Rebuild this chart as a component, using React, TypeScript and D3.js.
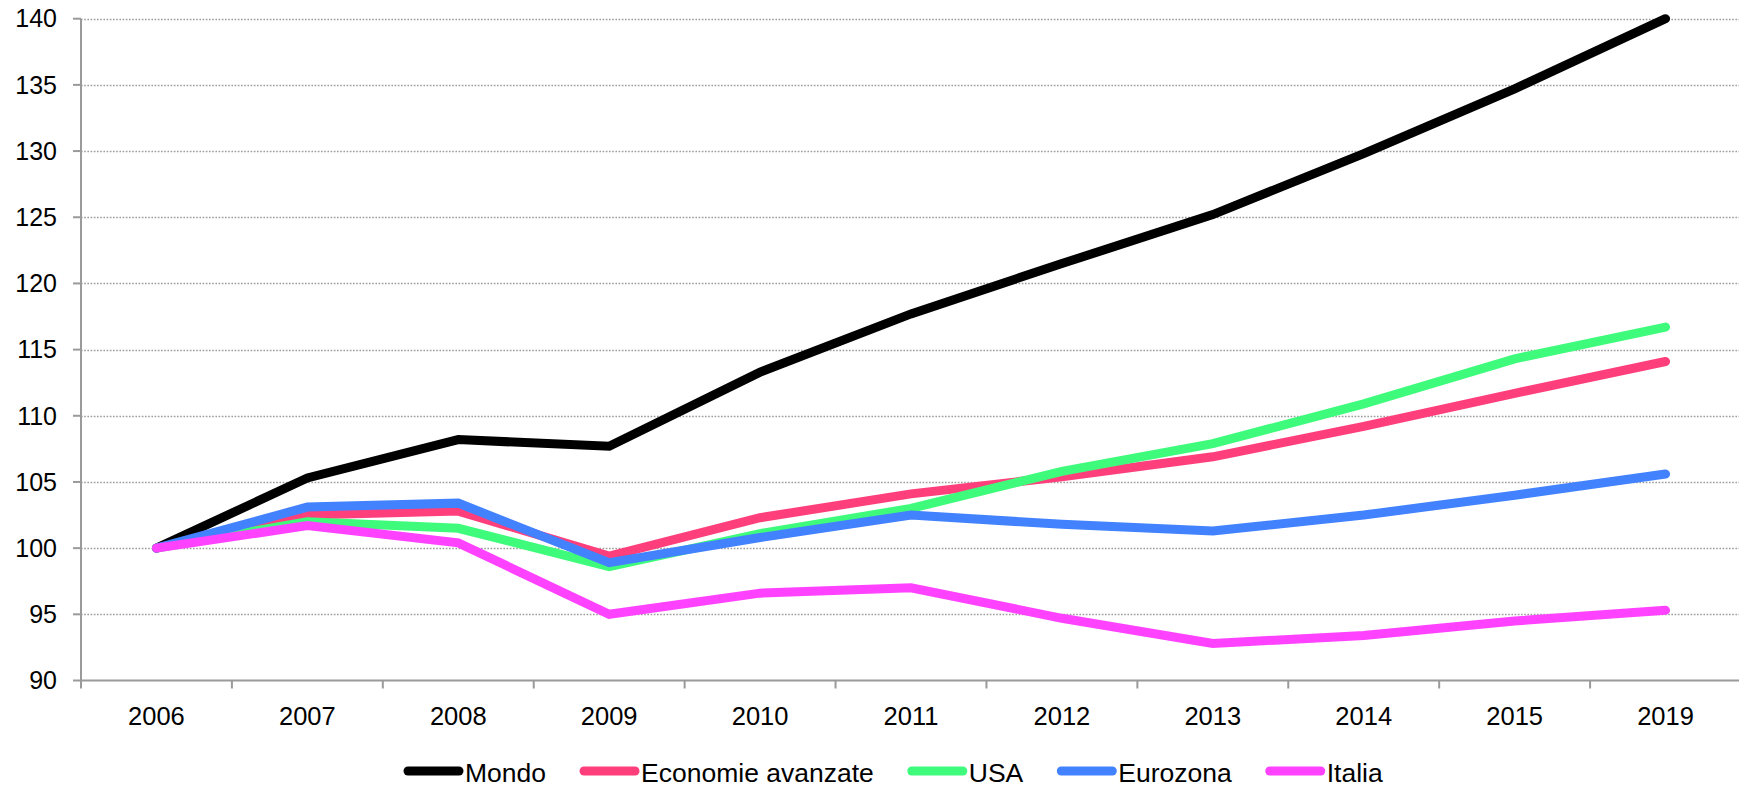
import React, { useEffect, useRef } from "react";
import * as d3 from "d3";

const years = ["2006", "2007", "2008", "2009", "2010", "2011", "2012", "2013", "2014", "2015", "2019"];
const seriesNames = ["Mondo", "Economie avanzate", "USA", "Eurozona", "Italia"];
const seriesColors = ["#000000", "#FF3F7C", "#3FFB7C", "#4282FF", "#FF42FF"];
const mondo = [100, 105.3, 108.2, 107.7, 113.3, 117.7, 121.5, 125.2, 129.8, 134.7, 140];
const economieAvanzate = [100, 102.5, 102.8, 99.4, 102.3, 104.1, 105.4, 106.9, 109.2, 111.7, 114.1];
const usa = [100, 102.0, 101.5, 98.6, 101.1, 103.0, 105.8, 107.9, 110.9, 114.3, 116.7];
const eurozona = [100, 103.1, 103.4, 98.9, 100.8, 102.5, 101.8, 101.3, 102.5, 104.0, 105.6];
const italia = [100, 101.7, 100.4, 95.0, 96.6, 97.0, 94.7, 92.8, 93.4, 94.5, 95.3];
const yTicks = [90, 95, 100, 105, 110, 115, 120, 125, 130, 135, 140];

const W = 1739;
const H = 788;
const FONT = "'Liberation Sans', Arial, sans-serif";

export default function App() {
  const ref = useRef<SVGSVGElement>(null);

  useEffect(() => {
    const svg = d3.select(ref.current);
    svg.selectAll("*").remove();
    const left = 81;
    const right = 1741;
    const x = d3.scaleBand<string>().domain(years).range([left, right]);
    const y = d3.scaleLinear().domain([90, 140]).range([680.5, 18.7]);
    const cx = (d: string) => (x(d) as number) + x.bandwidth() / 2;

    // gridlines
    svg
      .append("g")
      .selectAll("line")
      .data(yTicks.filter((t) => t !== 90))
      .join("line")
      .attr("x1", left)
      .attr("x2", W)
      .attr("y1", (d) => Math.round(y(d)) + 0.5)
      .attr("y2", (d) => Math.round(y(d)) + 0.5)
      .attr("stroke", "#9a9a9a")
      .attr("stroke-width", 1.4)
      .attr("stroke-dasharray", "1.6,1.6");

    // y axis
    const gy = svg.append("g");
    gy.append("line")
      .attr("x1", left)
      .attr("x2", left)
      .attr("y1", y(140))
      .attr("y2", y(90))
      .attr("stroke", "#9a9a9a")
      .attr("stroke-width", 2);
    gy.selectAll("line.tick")
      .data(yTicks)
      .join("line")
      .attr("class", "tick")
      .attr("x1", left - 8)
      .attr("x2", left)
      .attr("y1", (d) => y(d))
      .attr("y2", (d) => y(d))
      .attr("stroke", "#9a9a9a")
      .attr("stroke-width", 2);
    gy.selectAll("text")
      .data(yTicks)
      .join("text")
      .attr("x", 57)
      .attr("y", (d) => y(d))
      .attr("dy", "0.35em")
      .attr("text-anchor", "end")
      .attr("font-family", FONT)
      .attr("font-size", 25)
      .attr("fill", "#000")
      .text((d) => String(d));

    // x axis
    const gx = svg.append("g");
    gx.append("line")
      .attr("x1", left)
      .attr("x2", W)
      .attr("y1", y(90))
      .attr("y2", y(90))
      .attr("stroke", "#9a9a9a")
      .attr("stroke-width", 2);
    const boundaries = years.map((d) => x(d) as number).concat([right]);
    gx.selectAll("line.tick")
      .data(boundaries)
      .join("line")
      .attr("class", "tick")
      .attr("x1", (d) => d)
      .attr("x2", (d) => d)
      .attr("y1", y(90))
      .attr("y2", y(90) + 8)
      .attr("stroke", "#9a9a9a")
      .attr("stroke-width", 2);
    gx.selectAll("text")
      .data(years)
      .join("text")
      .attr("x", (d) => cx(d))
      .attr("y", 725)
      .attr("text-anchor", "middle")
      .attr("font-family", FONT)
      .attr("font-size", 25.5)
      .attr("fill", "#000")
      .text((d) => d);

    // lines
    const allSeries = [mondo, economieAvanzate, usa, eurozona, italia];
    const line = d3
      .line<number>()
      .x((_, i) => cx(years[i]))
      .y((d) => y(d));
    svg
      .append("g")
      .selectAll("path")
      .data(allSeries)
      .join("path")
      .attr("d", (d) => line(d) as string)
      .attr("fill", "none")
      .attr("stroke", (_, i) => seriesColors[i])
      .attr("stroke-width", 9)
      .attr("stroke-linecap", "round")
      .attr("stroke-linejoin", "miter");

    // legend
    const lg = svg.append("g");
    let pos = 408;
    const swatchLen = 51;
    seriesNames.forEach((name, i) => {
      lg.append("line")
        .attr("x1", pos)
        .attr("x2", pos + swatchLen)
        .attr("y1", 771)
        .attr("y2", 771)
        .attr("stroke", seriesColors[i])
        .attr("stroke-width", 9)
        .attr("stroke-linecap", "round");
      const t = lg
        .append("text")
        .attr("x", pos + swatchLen + 6)
        .attr("y", 782)
        .attr("font-family", FONT)
        .attr("font-size", 26.5)
        .attr("fill", "#000")
        .text(name);
      const w = (t.node() as SVGTextElement).getComputedTextLength();
      pos = pos + swatchLen + 6 + w + 38;
    });
  }, []);

  return (
    <svg
      ref={ref}
      width={W}
      height={H}
      style={{ position: "absolute", left: 0, top: 0, background: "#fff" }}
    />
  );
}
